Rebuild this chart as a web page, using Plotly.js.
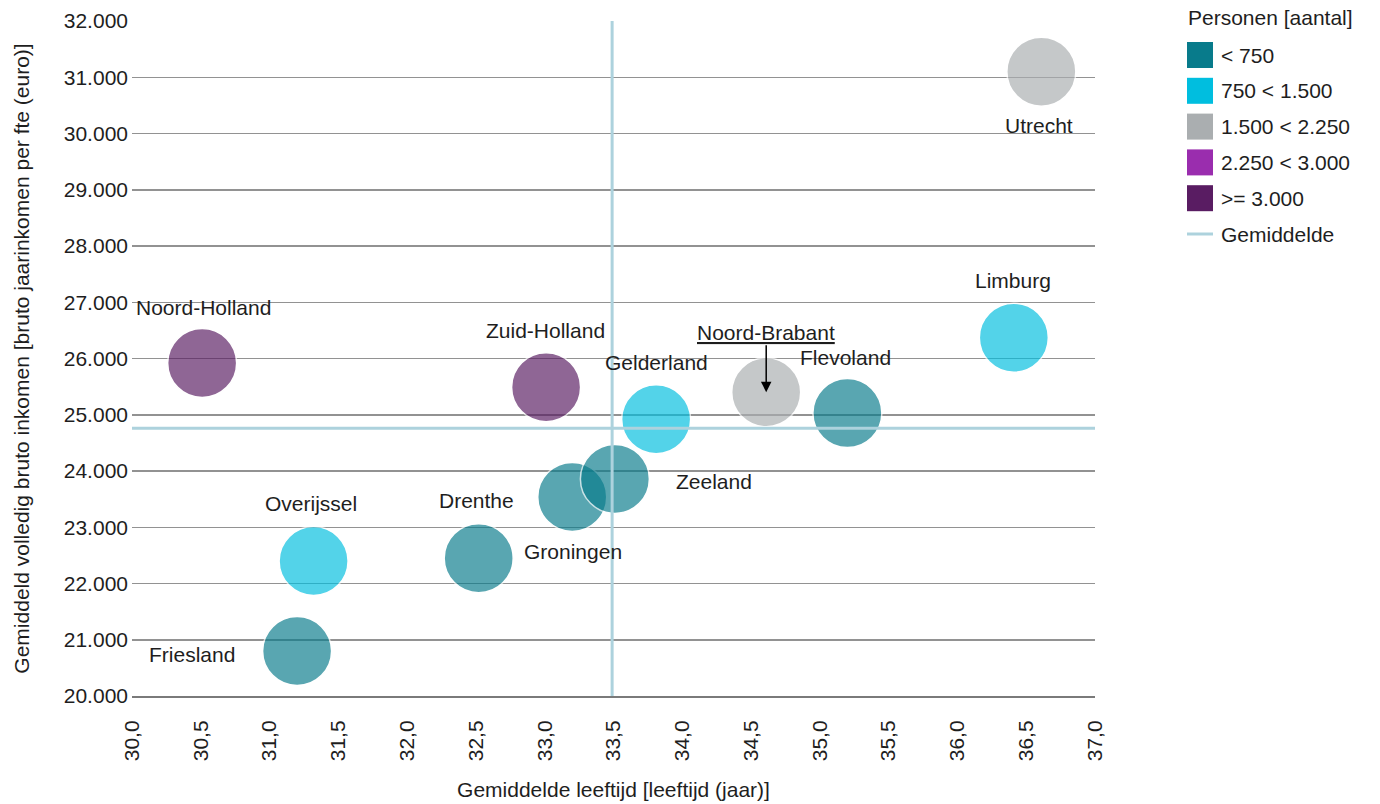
<!DOCTYPE html>
<html>
<head>
<meta charset="utf-8">
<script src="https://cdn.plot.ly/plotly-3.0.1.min.js"></script>
<style>html,body{margin:0;padding:0;background:#fff;}#chart{width:1380px;height:804px;}</style>
</head>
<body>
<div id="chart"></div>
<script>
// ---- data ----
const categories = ['< 750', '750 < 1.500', '1.500 < 2.250', '2.250 < 3.000', '>= 3.000'];
const categoryColors = ['#087B8B', '#00BEDF', '#AAAEB0', '#9A2DAE', '#591C62'];
const provinces = ['Utrecht', 'Noord-Holland', 'Limburg', 'Zuid-Holland', 'Noord-Brabant', 'Flevoland', 'Gelderland', 'Groningen', 'Zeeland', 'Drenthe', 'Overijssel', 'Friesland'];
const ages     = [36.61, 30.51, 36.41, 33.01, 34.61, 35.20, 33.81, 33.20, 33.51, 32.52, 31.32, 31.20];
const incomes  = [31100, 25920, 26370, 25490, 25400, 25030, 24920, 23540, 23860, 22450, 22400, 20800];
const personClass = [2, 4, 1, 4, 2, 0, 1, 0, 0, 0, 1, 0];
const meanAge = 33.49;
const meanIncome = 24760;
const meanLabel = 'Gemiddelde';
const legendTitle = 'Personen [aantal]';
const xTitle = 'Gemiddelde leeftijd [leeftijd (jaar)]';
const yTitle = 'Gemiddeld volledig bruto inkomen [bruto jaarinkomen per fte (euro)]';

// ---- label placement (pixel offsets from bubble centre) ----
const labelShift = {
  'Utrecht': [-2, -54], 'Noord-Holland': [1, 56], 'Limburg': [-1, 57], 'Zuid-Holland': [-1, 57],
  'Flevoland': [-2, 56], 'Gelderland': [0, 57], 'Groningen': [1, -55], 'Zeeland': [99, -3],
  'Drenthe': [-2, 58], 'Overijssel': [-3, 58], 'Friesland': [-105, -3]
};
const arrowLabel = 'Noord-Brabant';

const FONT = 'Liberation Sans, Arial, sans-serif';
const TXT = '#1e1e1e';
const FS = 21;
const M = {l: 132, r: 285, t: 21, b: 108};
const W = 1380, H = 804;
const PW = W - M.l - M.r, PH = H - M.t - M.b;
const px2x = p => (p - M.l) / PW;
const py2y = p => (H - M.b - p) / PH;

// ---- traces ----
const traces = categories.map((c, ci) => {
  const idx = provinces.map((p, i) => i).filter(i => personClass[i] === ci);
  return {
    type: 'scatter', mode: 'markers', name: c, showlegend: false,
    x: idx.map(i => ages[i]), y: idx.map(i => incomes[i]), text: idx.map(i => provinces[i]),
    marker: {size: 69, sizemode: 'diameter', color: categoryColors[ci], opacity: 0.67,
             line: {color: '#ffffff', width: 1.5}},
    hoverinfo: 'text'
  };
});

// ---- annotations ----
const annotations = [];
provinces.forEach((p, i) => {
  if (p === arrowLabel) {
    annotations.push({x: ages[i], y: incomes[i], xref: 'x', yref: 'y',
      text: '<span style="text-decoration:underline">' + p + '</span>',
      showarrow: true, ax: 0, ay: -60, arrowhead: 2, arrowsize: 1.4, arrowwidth: 1.5,
      arrowcolor: '#000', standoff: 0, startstandoff: 0,
      font: {family: FONT, size: FS, color: TXT}});
  } else {
    const s = labelShift[p];
    annotations.push({x: ages[i], y: incomes[i], xref: 'x', yref: 'y', text: p,
      showarrow: false, xshift: s[0], yshift: s[1],
      font: {family: FONT, size: FS, color: TXT}});
  }
});

// ---- manual legend ----
const shapes = [];
const LX0 = 1187, LX1 = 1213, LY0 = 55, LSTEP = 35.8, LSQ = 26;
annotations.push({xref: 'paper', yref: 'paper', x: px2x(1186), y: py2y(18), xanchor: 'left', yanchor: 'middle',
  text: legendTitle, showarrow: false, font: {family: FONT, size: FS, color: TXT}});
categories.forEach((c, ci) => {
  const cy = LY0 + LSTEP * ci;
  shapes.push({type: 'rect', xref: 'paper', yref: 'paper', x0: px2x(LX0), x1: px2x(LX1),
    y0: py2y(cy + LSQ / 2), y1: py2y(cy - LSQ / 2), fillcolor: categoryColors[ci],
    line: {width: 0}, layer: 'above'});
  annotations.push({xref: 'paper', yref: 'paper', x: px2x(1219), y: py2y(cy), xanchor: 'left', yanchor: 'middle',
    text: c, showarrow: false, font: {family: FONT, size: FS, color: TXT}});
});
const my = LY0 + LSTEP * categories.length;
shapes.push({type: 'line', xref: 'paper', yref: 'paper', x0: px2x(LX0), x1: px2x(LX1), y0: py2y(my), y1: py2y(my),
  line: {color: '#ADD2DD', width: 3}, layer: 'above'});
annotations.push({xref: 'paper', yref: 'paper', x: px2x(1219), y: py2y(my), xanchor: 'left', yanchor: 'middle',
  text: meanLabel, showarrow: false, font: {family: FONT, size: FS, color: TXT}});

// mean lines
shapes.push({type: 'line', xref: 'x', yref: 'paper', x0: meanAge, x1: meanAge, y0: 0, y1: 1,
  line: {color: '#ADD2DD', width: 3}, layer: 'above'});
shapes.push({type: 'line', xref: 'paper', yref: 'y', x0: 0, x1: 1, y0: meanIncome, y1: meanIncome,
  line: {color: '#ADD2DD', width: 3}, layer: 'above'});

const layout = {
  width: W, height: H, margin: M, paper_bgcolor: '#fff', plot_bgcolor: '#fff',
  separators: ',.', showlegend: false, hovermode: 'closest',
  font: {family: FONT, size: FS, color: TXT},
  xaxis: {range: [30, 37], tick0: 30, dtick: 0.5, tickformat: '.1f', tickangle: -90,
    showgrid: false, zeroline: false, showline: true, linecolor: '#7a7a7a', linewidth: 2,
    ticks: '', ticklabelstandoff: 14, automargin: false,
    tickfont: {family: FONT, size: FS, color: TXT},
    title: {text: xTitle, standoff: 22, font: {family: FONT, size: FS, color: TXT}}},
  yaxis: {range: [20000, 32000], tick0: 20000, dtick: 1000, tickformat: ',d',
    showgrid: true, gridcolor: '#929292', gridwidth: 1.5, zeroline: false, showline: false,
    ticks: '', ticklabelstandoff: 3, automargin: false,
    tickfont: {family: FONT, size: FS, color: TXT},
    title: {text: yTitle, standoff: 28, font: {family: FONT, size: FS, color: TXT}}},
  shapes: shapes, annotations: annotations
};

Plotly.newPlot('chart', traces, layout, {displayModeBar: false, staticPlot: true});
</script>
</body>
</html>
